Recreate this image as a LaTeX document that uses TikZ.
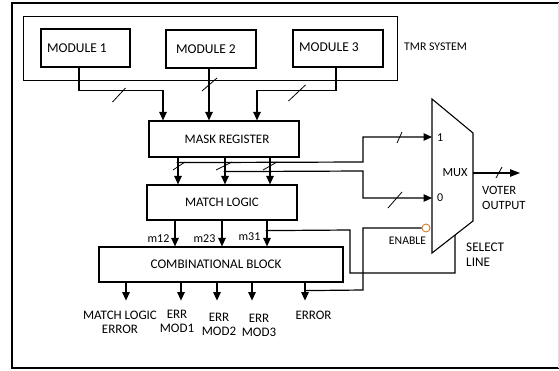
\documentclass[tikz,border=0pt]{standalone}
\usepackage{fontspec}
\setmainfont{Carlito}
\usetikzlibrary{arrows.meta,calc}
\begin{document}
\begin{tikzpicture}[x=1pt,y=-1pt,
  blk/.style={draw, line width=1.2pt, inner sep=0pt},
  wire/.style={line width=1.2pt},
  arr/.style={wire, -{Triangle[length=8.5pt,width=7.5pt]}},
  slash/.style={line width=0.8pt},
  lbl/.style={inner sep=0pt, font=\fontsize{12}{14}\selectfont},
  big/.style={inner sep=0pt, font=\fontsize{13}{14}\selectfont},
  every label/.style={big}]
\useasboundingbox (0,0) rectangle (559,370);

% outer frame
\draw[line width=1.2pt] (558.5,3) -- (12,3) -- (12,368) -- (558.5,368);
\draw[black!12, line width=0.8pt] (558.5,3) -- (558.5,368);

% TMR system with its three modules
\node[blk, line width=0.9pt, minimum width=374pt, minimum height=64pt] (tmr) at (210,48) {};
\node[lbl, anchor=west, font=\fontsize{11.8}{14}\selectfont] (tmrt) at (404,47) {TMR SYSTEM};
\node[blk, line width=1.2pt, minimum width=89pt, minimum height=38pt,
      label={[xshift=-8.5pt,font=\fontsize{13.5}{14}\selectfont]center:MODULE 1}] (m1) at (85.5,48) {};
\node[blk, line width=1.05pt, minimum width=90pt, minimum height=38pt,
      label={[xshift=-5pt,font=\fontsize{13.5}{14}\selectfont]center:MODULE 2}] (m2) at (211,49) {};
\node[blk, line width=1.05pt, minimum width=90pt, minimum height=37pt,
      label={[xshift=-9pt,yshift=1.5pt,font=\fontsize{13.5}{14}\selectfont]center:MODULE 3}] (m3) at (338,48.5) {};

% processing blocks
\node[blk, minimum width=150pt, minimum height=36pt,
      label={[xshift=3pt]center:MASK REGISTER}] (mr) at (224,139) {};
\node[blk, minimum width=150pt, minimum height=35pt,
      label={center:MATCH LOGIC}] (ml) at (222,202.5) {};
\node[blk, minimum width=244pt, minimum height=35pt,
      label={[xshift=-5pt,font=\fontsize{13.2}{14}\selectfont]center:COMBINATIONAL BLOCK}] (cb) at (221,264.5) {};

% multiplexer
\coordinate (muxTL) at (432,99);
\coordinate (muxTR) at (473,133);
\coordinate (muxBR) at (473,221);
\coordinate (muxBL) at (432,253);
\draw[line width=1.1pt] (muxTL) -- (muxTR) -- (muxBR) -- (muxBL) -- cycle;
\coordinate (in1) at (432,137);
\coordinate (in0) at (432,198);
\coordinate (muxout) at (473,173);
\coordinate (sel) at (455,235);
\node[lbl, anchor=west] (l1) at (437,138) {1};
\node[lbl, anchor=west] (l0) at (437,198) {0};
\node[lbl, font=\fontsize{12.4}{14}\selectfont] (muxt) at (455,173) {MUX};
\node[draw=brown!70!orange, fill=white, line width=0.9pt, circle,
      minimum size=8pt, inner sep=0pt] (en) at (426,228) {};
\node[lbl, font=\fontsize{11.7}{14}\selectfont] (ent) at (407.5,241) {ENABLE};
\node[lbl, anchor=west, align=left, font=\fontsize{13.2}{15}\selectfont] (selt) at (466,254.5) {SELECT\\LINE};
\coordinate (vout) at (520,173);
\node[lbl, anchor=west, align=left, font=\fontsize{12.6}{15}\selectfont] (voutt) at (482,197.5) {VOTER\\OUTPUT};

% module outputs into the mask register
\coordinate (mrA) at ([xshift=-61pt]mr.north);
\coordinate (mrB) at ([xshift=-15pt]mr.north);
\coordinate (mrC) at ([xshift=33pt]mr.north);
\draw[arr] ([xshift=-6.5pt]m1.south) |- ([yshift=30pt]mrA) -- (mrA);
\draw[arr] ([xshift=-2pt]m2.south) -- (mrB);
\draw[arr] ([xshift=-2pt]m3.south) |- ([yshift=30pt]mrC) -- (mrC);
\draw[slash] (119,95) ++(-6.5,7) -- ++(13,-14);
\draw[slash] (209.5,84.5) ++(-7.5,6.5) -- ++(15,-13);
\draw[slash] (297,93) ++(-8.5,8) -- ++(17,-16);

% mask register into match logic
\coordinate (mlA) at ([xshift=-46pt]mr.south);
\coordinate (mlB) at ([xshift=1pt]mr.south);
\coordinate (mlC) at ([xshift=46pt]mr.south);
\draw[arr] (mlA) -- (mlA |- ml.north);
\draw[arr] (mlB) -- (mlB |- ml.north);
\draw[arr] (mlC) -- (mlC |- ml.north);
\draw[slash] (179,166) ++(-6,4) -- ++(12,-8);
\draw[slash] (224,166) ++(-8,4) -- ++(16,-8);
\draw[slash] (270,166) ++(-7,4) -- ++(14,-8);

% taps to the multiplexer data inputs
\coordinate (tap1) at ([yshift=-5pt]mlA);
\coordinate (tap0) at ([yshift=-14pt]mlB);
\fill (tap1) circle (1.6pt);
\fill (tap0) circle (1.6pt);
\draw[arr] (tap1) -- (363,162) |- (in1);
\draw[arr] (tap0) -- (363,171) |- (in0);
\draw[slash] (399.5,137.5) ++(-2.5,5.5) -- ++(5,-11);
\draw[slash] (395,200) ++(-7,8) -- ++(14,-16);

% voter output
\draw[wire, -{Triangle[length=10pt,width=7.5pt]}] (muxout) -- (vout);
\draw[slash] (499,172.5) ++(-3,5.5) -- ++(6,-11);

% match logic into the combinational block
\coordinate (cbA) at ([xshift=-47pt]ml.south);
\coordinate (cbB) at (ml.south);
\coordinate (cbC) at ([xshift=45pt]ml.south);
\draw[arr] (cbA) -- (cbA |- cb.north);
\draw[arr] (cbB) -- (cbB |- cb.north);
\draw[arr] (cbC) -- (cbC |- cb.north);
\node[lbl] (m12) at (158.5,239) {m12};
\node[lbl] (m23) at (204.5,239) {m23};
\node[lbl] (m31) at (249.5,237) {m31};

% select line taken from m31
\coordinate (tapS) at ([yshift=-10pt]cbC);
\fill (tapS) circle (1.6pt);
\draw[wire] (tapS) -- (350,230) |- (455,273) -- (sel);

% combinational block outputs
\coordinate (oA) at ([xshift=-95pt]cb.south);
\coordinate (oB) at ([xshift=-40pt]cb.south);
\coordinate (oC) at ([xshift=-4pt]cb.south);
\coordinate (oD) at ([xshift=31pt]cb.south);
\coordinate (oE) at ([xshift=84pt]cb.south);
\foreach \o in {oA,oB,oC,oD,oE}
  \draw[arr] (\o) -- ([yshift=-18pt]\o);
\node[big, align=center] (eA) at (120,322) {MATCH LOGIC\\ERROR};
\node[big, align=center] (eB) at (177,321.5) {ERR\\MOD1};
\node[big, align=center] (eC) at (219,324) {ERR\\MOD2};
\node[big, align=center] (eD) at (259,325) {ERR\\MOD3};
\node[big] (eE) at (313.5,315) {ERROR};

% enable fed from the error output
\draw[wire] ([yshift=-8pt]oE) -- (363,290) |- (en.west);
\end{tikzpicture}
\end{document}
